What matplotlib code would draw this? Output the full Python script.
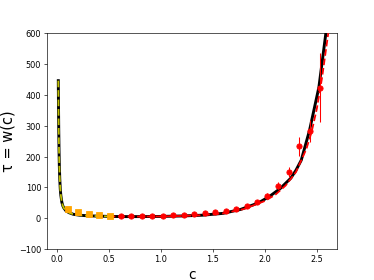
import matplotlib
matplotlib.use("Agg")
import matplotlib.pyplot as plt

# model curve w(c) (black)
curve_c = [0.016, 0.018, 0.02, 0.023, 0.026, 0.03, 0.035, 0.04, 0.05, 0.06, 0.07,
           0.09, 0.12, 0.16, 0.22, 0.3, 0.4, 0.5, 0.65, 0.8, 1.0, 1.2, 1.4, 1.6,
           1.77, 1.9, 1.96, 2.05, 2.15, 2.25, 2.3, 2.35, 2.43, 2.52, 2.587]
curve_w = [446, 360, 290, 220, 170, 128, 95, 75, 52, 40, 33,
           24, 18, 13, 10, 8, 7, 6, 5.5, 5.5, 6, 7.5, 10, 16,
           29, 45, 54, 72, 97, 130, 156, 188, 285, 425, 600]

# low-c fit (yellow dashed)
low_c = [0.016, 0.018, 0.02, 0.023, 0.026, 0.03, 0.035, 0.04, 0.05, 0.06, 0.07,
         0.09, 0.12, 0.16, 0.22, 0.3, 0.4, 0.5]
low_w = [446, 360, 290, 220, 170, 128, 95, 75, 52, 40, 33,
         24, 18, 13, 10, 8, 7, 6]

# high-c fit (red dashed)
high_c = [0.5, 0.8, 1.0, 1.2, 1.4, 1.6, 1.8, 2.0, 2.1, 2.2, 2.3, 2.4, 2.45, 2.5, 2.55, 2.61]
high_w = [6, 5.5, 6, 7.5, 10, 16, 30, 56, 76, 106, 150, 225, 280, 355, 455, 600]

# orange squares data
sq_c = [0.11, 0.21, 0.31, 0.41, 0.51]
sq_w = [29, 20, 15, 11, 9]

# red circles data
pt_c = [0.615, 0.718, 0.821, 0.920, 1.022, 1.122, 1.221, 1.324, 1.423, 1.526,
        1.625, 1.724, 1.827, 1.926, 2.026, 2.128, 2.234, 2.333, 2.433, 2.535]
pt_w = [7.5, 7, 7, 8, 8, 10, 11, 13, 16, 19,
        24, 31, 40, 54, 73, 106, 150, 233, 282, 423]
pt_err = [1, 1, 1, 1, 1, 1, 1, 1, 2, 2,
          3, 4, 5, 6, 8, 10, 16, 30, 35, 112]

xticks = [0.0, 0.5, 1.0, 1.5, 2.0, 2.5]
yticks = [-100, 0, 100, 200, 300, 400, 500, 600]

dpi = 374 / 6.4
fig = plt.figure(figsize=(6.4, 4.8), dpi=dpi)
ax = fig.add_subplot(111)

ax.plot(curve_c, curve_w, color='black', lw=3.6, zorder=2)
ax.plot(low_c, low_w, color='y', lw=2.2, ls='--', zorder=3)
ax.plot(high_c, high_w, color='red', lw=2.2, ls='--', zorder=3)
ax.errorbar(sq_c, sq_w, yerr=None, fmt='s', color='orange', ms=7, zorder=4)
ax.errorbar(pt_c, pt_w, yerr=pt_err, fmt='o', color='red', ms=6.5, lw=1.3, zorder=4)

ax.set_xlim(-0.095, 2.69)
ax.set_ylim(-100, 600)
ax.set_xticks(xticks)
ax.set_yticks(yticks)
ax.set_xlabel('c', fontsize=17)
ax.set_ylabel('τ = w(c)', fontsize=18)

fig.savefig('out.png', dpi=dpi)
